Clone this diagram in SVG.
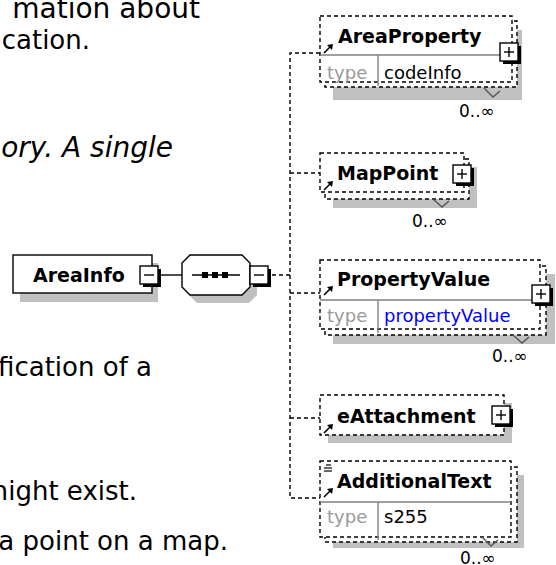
<svg xmlns="http://www.w3.org/2000/svg" width="556" height="565" viewBox="0 0 556 565">
<style>
.doc{font-family:"DejaVu Sans","Verdana",sans-serif;font-size:26px;fill:#000;text-anchor:end}
.big{font-size:28px}
.lbl{font-family:"DejaVu Sans","Verdana",sans-serif;font-size:19px;font-weight:bold;fill:#000}
.typ{font-family:"DejaVu Sans","Verdana",sans-serif;font-size:18px;fill:#999}
.val{font-family:"DejaVu Sans","Verdana",sans-serif;font-size:18px;fill:#000}
.blue{fill:#0000ff}
.occ{font-family:"DejaVu Sans","Verdana",sans-serif;font-size:17px;fill:#000}
.dbox{fill:#fff;stroke:#000;stroke-width:1.4;stroke-dasharray:4,3}
.sbox{fill:#fff;stroke:#000;stroke-width:1.4}
.shadow{fill:#c0c0c0}
.div{stroke:#808080;stroke-width:1.4}
.con{fill:none;stroke:#000;stroke-width:1.4;stroke-dasharray:4,3}
.sol{fill:none;stroke:#000;stroke-width:1.4}
.notch{fill:none;stroke:#555;stroke-width:1.4}
</style>
<defs>
<g id="plus">
<rect x="3" y="3" width="18" height="18" fill="#000"/>
<rect x="0" y="0" width="18" height="18" fill="#fff" stroke="#000" stroke-width="1.4"/>
<line x1="4" y1="9" x2="14" y2="9" stroke="#000" stroke-width="1.4"/>
<line x1="9" y1="4" x2="9" y2="14" stroke="#000" stroke-width="1.4"/>
</g>
<g id="minus">
<rect x="3" y="3" width="18" height="18" fill="#000"/>
<rect x="0" y="0" width="18" height="18" fill="#fff" stroke="#000" stroke-width="1.4"/>
<line x1="4" y1="9" x2="14" y2="9" stroke="#000" stroke-width="1.4"/>
</g>
<g id="ref">
<line x1="0" y1="8" x2="7" y2="1" stroke="#000" stroke-width="1.6"/>
<polygon points="9,-1 3,0 8,5" fill="#000"/>
</g>
</defs>

<g id="doc-text">
<text class="doc big" x="200" y="18">mation about</text>
<text class="doc" x="90" y="49">cation.</text>
<text class="doc big" x="173" y="157" font-style="italic">ory. A single</text>
<text class="doc" x="152" y="376">fication of a</text>
<text class="doc" x="137" y="500">might exist.</text>
<text class="doc" x="228" y="550">a point on a map.</text>
</g>

<g id="connectors">
<line class="sol" x1="161" y1="275" x2="182" y2="275"/>
<line class="con" x1="272" y1="275" x2="290" y2="275"/>
<polyline class="con" points="320,53 290,53 290,498 320,498"/>
<line class="con" x1="290" y1="173" x2="320" y2="173"/>
<line class="con" x1="290" y1="293" x2="320" y2="293"/>
<line class="con" x1="290" y1="418" x2="320" y2="418"/>
</g>

<g id="AreaInfo">
<rect class="shadow" x="20" y="263" width="138" height="39"/>
<rect class="sbox" x="13" y="255" width="139" height="38"/>
<text class="lbl" x="33" y="282">AreaInfo</text>
<use href="#minus" x="140" y="266"/>
</g>

<g id="sequence">
<polygon class="shadow" points="197,263 249,263 257,271 257,295 249,303 197,303 189,295 189,271"/>
<polygon class="sbox" points="190,255 242,255 250,263 250,287 242,295 190,295 182,287 182,263"/>
<line class="sol" x1="192" y1="275" x2="240" y2="275"/>
<rect x="202" y="272" width="6" height="6" fill="#000"/>
<rect x="212" y="272" width="6" height="6" fill="#000"/>
<rect x="222" y="272" width="6" height="6" fill="#000"/>
<use href="#minus" x="250" y="266"/>
</g>

<g id="AreaProperty">
<rect class="shadow" x="333" y="30" width="189" height="70"/>
<rect class="dbox" x="325" y="21" width="192" height="66"/>
<rect class="dbox" x="320" y="16" width="192" height="66"/>
<line class="div" x1="320" y1="55" x2="512" y2="55"/>
<line class="div" x1="378" y1="55" x2="378" y2="86"/>
<text class="lbl" x="338" y="43">AreaProperty</text>
<text class="typ" x="327" y="79">type</text>
<text class="val" x="384" y="79">codeInfo</text>
<use href="#ref" x="324" y="45"/>
<use href="#plus" x="500" y="43"/>
<polyline class="notch" points="484,88 493,97 500,91"/>
<text class="occ" x="459" y="117">0..∞</text>
</g>

<g id="MapPoint">
<rect class="shadow" x="333" y="167" width="144" height="41"/>
<rect class="dbox" x="325" y="159" width="144" height="40"/>
<rect class="dbox" x="320" y="153" width="144" height="39"/>
<text class="lbl" x="337" y="180">MapPoint</text>
<use href="#ref" x="324" y="182"/>
<use href="#plus" x="453" y="165"/>
<polyline class="notch" points="433,199 442,207 449,201"/>
<text class="occ" x="412" y="227">0..∞</text>
</g>

<g id="PropertyValue">
<rect class="shadow" x="333" y="274" width="222" height="70"/>
<rect class="dbox" x="325" y="266" width="221" height="69"/>
<rect class="dbox" x="320" y="260" width="220" height="69"/>
<line class="div" x1="320" y1="300" x2="540" y2="300"/>
<line class="div" x1="378" y1="300" x2="378" y2="333"/>
<text class="lbl" x="337" y="286">PropertyValue</text>
<text class="typ" x="327" y="322">type</text>
<text class="val blue" x="384" y="322">propertyValue</text>
<use href="#ref" x="324" y="287"/>
<use href="#plus" x="532" y="285"/>
<polyline class="notch" points="513,335 522,343 529,337"/>
<text class="occ" x="492" y="362">0..∞</text>
</g>

<g id="eAttachment">
<rect class="shadow" x="328" y="403" width="184" height="40"/>
<rect class="dbox" x="320" y="395" width="184" height="40"/>
<text class="lbl" x="337" y="423">eAttachment</text>
<use href="#ref" x="324" y="425"/>
<use href="#plus" x="492" y="406"/>
</g>

<g id="AdditionalText">
<rect class="shadow" x="333" y="475" width="191" height="73"/>
<rect class="dbox" x="325" y="467" width="192" height="75"/>
<rect class="dbox" x="320" y="461" width="191" height="76"/>
<line class="div" x1="320" y1="502" x2="511" y2="502"/>
<line class="div" x1="378" y1="502" x2="378" y2="540"/>
<line x1="326" y1="465" x2="331" y2="465" stroke="#000" stroke-width="1.2"/>
<line x1="324" y1="468" x2="332" y2="468" stroke="#000" stroke-width="1.2"/>
<line x1="324" y1="471" x2="332" y2="471" stroke="#000" stroke-width="1.2"/>
<text class="lbl" x="337" y="488">AdditionalText</text>
<text class="typ" x="327" y="523">type</text>
<text class="val" x="384" y="523">s255</text>
<use href="#ref" x="324" y="489"/>
<polyline class="notch" points="482,537 491,546 498,540"/>
<text class="occ" x="460" y="564">0..∞</text>
</g>
</svg>
